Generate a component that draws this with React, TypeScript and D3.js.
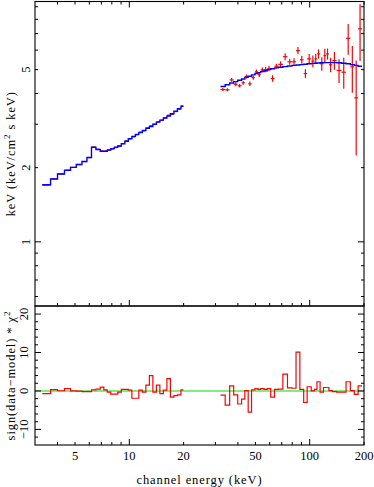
import React from 'react';
import {scaleLog, scaleLinear, line, curveStepAfter} from 'd3';

const width = 374;
const height = 487;
const frame = {left: 35, right: 364, top: 1.5, mid: 306, bottom: 445};

// low energy channels (keV bin edges), model, data, errors, residuals
const loEdges = [3.29, 3.66, 4.0, 4.37, 4.72, 5.08, 5.46, 5.82, 6.17, 6.53, 6.9, 7.22, 7.55, 7.89,
  8.25, 8.63, 9.03, 9.44, 9.87, 10.33, 10.8, 11.29, 11.81, 12.35, 12.92, 13.51, 14.13, 14.77,
  15.45, 16.16, 16.9, 17.67, 18.48, 19.33, 19.95];
const loModel = [1.705, 1.8, 1.885, 1.95, 2.005, 2.06, 2.12, 2.2, 2.42, 2.37, 2.33, 2.33, 2.36,
  2.39, 2.42, 2.45, 2.5, 2.56, 2.62, 2.68, 2.73, 2.78, 2.83, 2.89, 2.94, 3.0, 3.06, 3.12, 3.18,
  3.24, 3.31, 3.39, 3.47, 3.55];
const loData = [1.699, 1.803, 1.886, 1.956, 2.005, 2.059, 2.117, 2.197, 2.424, 2.374, 2.338, 2.333,
  2.357, 2.383, 2.414, 2.447, 2.505, 2.565, 2.623, 2.667, 2.719, 2.783, 2.826, 2.899, 2.958, 2.997,
  3.069, 3.114, 3.182, 3.262, 3.296, 3.379, 3.459, 3.553];
const loErr = [0.008, 0.008, 0.008, 0.008, 0.008, 0.009, 0.009, 0.009, 0.01, 0.01, 0.01, 0.01, 0.01,
  0.01, 0.011, 0.011, 0.011, 0.012, 0.012, 0.012, 0.013, 0.013, 0.013, 0.014, 0.014, 0.015, 0.015,
  0.016, 0.016, 0.017, 0.017, 0.018, 0.019, 0.02];
const loResid = [-0.7, 0.35, 0.05, 0.6, 0.0, -0.05, -0.2, -0.2, 0.3, 0.5, 1.0, 0.3, -0.3, -0.8, -0.8,
  -0.3, 0.4, 0.4, 0.2, -1.9, -1.9, 0.2, -0.3, 1.5, 4.0, -0.3, 1.5, -0.7, 0.2, 3.2, -1.6, -1.2, -1.0, 0.3];

// high energy channels
const hiEdges = [32, 34, 36, 37.9, 39.9, 41.9, 43.7, 45.6, 47.6, 49.7, 51.6, 53.5, 55.8, 58.2, 60.8,
  63.8, 67, 71, 75.3, 79.8, 84, 88.2, 92.6, 96.8, 102, 106.3, 109.7, 114.2, 119.2, 123.4, 127.8,
  133.4, 141, 150, 159, 168, 176.7, 185.5, 195];
const hiModel = [4.27, 4.34, 4.41, 4.47, 4.53, 4.58, 4.65, 4.7, 4.76, 4.82, 4.86, 4.91, 4.95, 5.0,
  5.04, 5.08, 5.11, 5.14, 5.17, 5.2, 5.22, 5.24, 5.26, 5.28, 5.3, 5.31, 5.32, 5.33, 5.34, 5.34, 5.34,
  5.34, 5.33, 5.31, 5.28, 5.24, 5.2, 5.16];
const hiData = [4.15, 4.14, 4.54, 4.36, 4.3, 4.42, 4.69, 4.38, 4.64, 4.9, 4.77, 4.99, 5.0, 5.05, 4.6,
  5.16, 5.25, 5.64, 5.38, 5.38, 5.97, 5.48, 4.82, 5.53, 5.41, 5.53, 5.79, 5.28, 5.7, 5.79, 5.23, 5.44,
  4.96, 4.88, 6.7, 5.13, 3.84, 7.32];
const hiErr = [0.06, 0.06, 0.08, 0.08, 0.07, 0.08, 0.09, 0.09, 0.09, 0.1, 0.1, 0.11, 0.12, 0.13, 0.14,
  0.12, 0.15, 0.18, 0.15, 0.18, 0.2, 0.2, 0.2, 0.25, 0.3, 0.25, 0.25, 0.33, 0.38, 0.3, 0.35, 0.45,
  0.55, 0.7, 0.95, 1.1, 1.6, 1.9];
const hiResid = [-1.1, -3.7, 1.3, -1.0, -3.4, -2.1, 0.1, -5.5, 0.3, 0.6, 0.4, 0.6, 0.4, 0.6, -1.6, 0.4,
  0.5, 4.4, 0.8, 0.7, 10.1, 0.4, -3.0, 1.1, 0.0, 0.4, 2.4, -0.3, 0.9, 0.9, 0.1, -0.2, -0.3, -0.3, 2.4,
  0.1, -0.9, 1.3];

// ticks
const xMajor = [10, 100];
const xMinor = [4, 5, 6, 7, 8, 9, 20, 30, 40, 50, 60, 70, 80, 90, 200];
const xLabels = [5, 10, 20, 50, 100, 200];
const yMajor = [1];
const yMinor = [0.6, 0.7, 0.8, 0.9, 2, 3, 4, 5, 6, 7, 8, 9];
const yLabels = [1, 2, 5];
const rMajor = [-10, 0, 10, 20];
const rMinor = [-12, -8, -6, -4, -2, 2, 4, 6, 8, 12, 14, 16, 18];
const rLabels = [20, 10, 0, -10];

const font = 'Liberation Serif, Times New Roman, serif';

const x = scaleLog().domain([3, 200]).range([frame.left, frame.right]);
const y = scaleLog().domain([0.549, 9.45]).range([frame.mid, frame.top]);
const r = scaleLinear().domain([-14.06, 22.1]).range([frame.bottom, frame.mid]);

function stepPath(edges: number[], values: number[], ys: (v: number) => number) {
  const pts: [number, number][] = values.map((v, i) => [edges[i], v]);
  pts.push([edges[edges.length - 1], values[values.length - 1]]);
  return line<[number, number]>()
    .x((d) => x(d[0]))
    .y((d) => ys(d[1]))
    .curve(curveStepAfter)(pts) as string;
}

function crosses(edges: number[], data: number[], err: number[], key: string) {
  return data.map((v, i) => {
    const lo = edges[i];
    const hi = edges[i + 1];
    const xc = x(Math.sqrt(lo * hi));
    return (
      <g key={key + i}>
        <line x1={x(lo)} x2={x(hi)} y1={y(v)} y2={y(v)} />
        <line x1={xc} x2={xc} y1={y(v - err[i])} y2={y(v + err[i])} />
      </g>
    );
  });
}

export default function App() {
  const tk = 'black';
  return (
    <svg width={width} height={height} style={{position: 'absolute', left: 0, top: 0, background: 'white'}}>
      {/* top panel data + model */}
      <g stroke="#ff0000" strokeWidth={1.2}>
        {crosses(loEdges, loData, loErr, 'lo')}
        {crosses(hiEdges, hiData, hiErr, 'hi')}
      </g>
      <g fill="none" stroke="#0000ff" strokeWidth={1.4}>
        <path d={stepPath(loEdges, loModel, y)} />
        <path d={stepPath(hiEdges, hiModel, y)} />
      </g>

      {/* residual panel */}
      <line x1={frame.left} x2={frame.right} y1={r(0)} y2={r(0)} stroke="#00dd00" strokeWidth={1.1} />
      <g fill="none" stroke="#ff0000" strokeWidth={1.2}>
        <path d={stepPath(loEdges, loResid, r)} />
        <path d={stepPath(hiEdges, hiResid, r)} />
      </g>

      {/* frames */}
      <g fill="none" stroke="black" strokeWidth={1.1}>
        <rect x={frame.left} y={frame.top} width={frame.right - frame.left} height={frame.mid - frame.top} />
        <rect x={frame.left} y={frame.mid} width={frame.right - frame.left} height={frame.bottom - frame.mid} />
      </g>

      {/* x ticks */}
      <g stroke={tk} strokeWidth={1}>
        {[...xMajor.map((v) => [v, 6]), ...xMinor.map((v) => [v, 3])].map(([v, len]) => (
          <g key={'xt' + v}>
            <line x1={x(v)} x2={x(v)} y1={frame.top} y2={frame.top + len} />
            <line x1={x(v)} x2={x(v)} y1={frame.mid} y2={frame.mid - len} />
            <line x1={x(v)} x2={x(v)} y1={frame.bottom} y2={frame.bottom - len} />
          </g>
        ))}
        {[...yMajor.map((v) => [v, 6]), ...yMinor.map((v) => [v, 3])].map(([v, len]) => (
          <g key={'yt' + v}>
            <line x1={frame.left} x2={frame.left + len} y1={y(v)} y2={y(v)} />
            <line x1={frame.right} x2={frame.right - len} y1={y(v)} y2={y(v)} />
          </g>
        ))}
        {[...rMajor.map((v) => [v, 6]), ...rMinor.map((v) => [v, 3])].map(([v, len]) => (
          <g key={'rt' + v}>
            <line x1={frame.left} x2={frame.left + len} y1={r(v)} y2={r(v)} />
            <line x1={frame.right} x2={frame.right - len} y1={r(v)} y2={r(v)} />
          </g>
        ))}
      </g>

      {/* tick labels */}
      <g fontFamily={font} fontSize={12.5} fill="black" textAnchor="middle">
        {xLabels.map((v) => (
          <text key={'xl' + v} x={x(v)} y={459.5}>{v}</text>
        ))}
        {yLabels.map((v) => (
          <text key={'yl' + v} transform={`translate(29.5,${y(v)}) rotate(-90)`}>{v}</text>
        ))}
        {rLabels.map((v) => (
          <text key={'rl' + v} transform={`translate(28,${r(v)}) rotate(-90)`}>
            {v < 0 ? `\u2212${-v}` : v}
          </text>
        ))}
      </g>

      {/* axis titles */}
      <g fontFamily={font} fontSize={12.5} fill="black" textAnchor="middle" letterSpacing={0.9}>
        <text x={(frame.left + frame.right) / 2} y={484}>channel energy (keV)</text>
        <text transform={`translate(15,${(frame.top + frame.mid) / 2}) rotate(-90)`}>
          keV (keV/cm<tspan dy={-5} fontSize={9}>2</tspan><tspan dy={5}> s keV)</tspan>
        </text>
        <text transform={`translate(15,${(frame.mid + frame.bottom) / 2}) rotate(-90)`}>
          sign(data{'\u2212'}model) * {'\u03c7'}<tspan dy={-5} fontSize={9}>2</tspan>
        </text>
      </g>
    </svg>
  );
}
